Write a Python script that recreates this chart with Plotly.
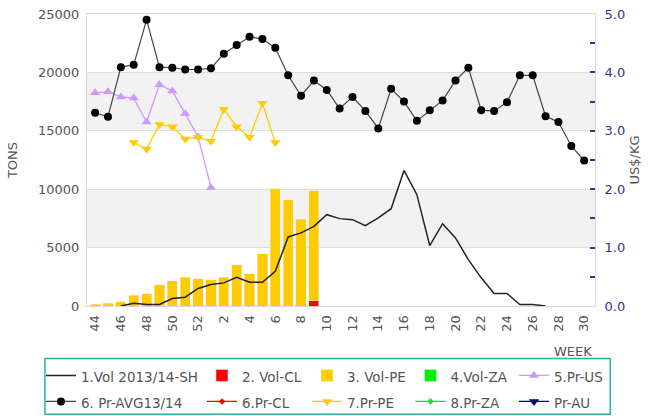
import plotly.graph_objects as go

# ---- data ----
weeks = [str(w) for w in list(range(44, 53)) + list(range(1, 31))]
tick_weeks = weeks[::2]

vol_sh = [None, None, 0, 240, 130, 130, 640, 750, 1500, 1840,
          1980, 2460, 2030, 2030, 2970, 5910, 6260, 6820, 7820, 7480,
          7390, 6880, 7540, 8330, 11610, 9530, 5170, 7050, 5830, 3970,
          2410, 1070, 1070, 130, 130, 0, None, None, None]

vol_cl = [None] * 17 + [470] + [None] * 21

vol_pe = [130, 240, 360, 900, 1070, 1840, 2150, 2460, 2350, 2260,
          2460, 3520, 2780, 4460, 10040, 9100, 7420, 9380] + [None] * 21

vol_za = [None] * 39

pr_avg = [3.31, 3.24, 4.09, 4.13, 4.90, 4.09, 4.08, 4.05, 4.05, 4.07,
          4.32, 4.47, 4.61, 4.57, 4.42, 3.95, 3.60, 3.86, 3.70, 3.38,
          3.58, 3.34, 3.04, 3.72, 3.50, 3.17, 3.35, 3.52, 3.86, 4.08,
          3.35, 3.34, 3.49, 3.95, 3.95, 3.25, 3.15, 2.74, 2.49]

pr_us = [3.65, 3.67, 3.58, 3.56, 3.15, 3.79, 3.68, 3.29, 2.90, 2.03] + [None] * 29

pr_pe = [None, None, None, 2.80, 2.69, 3.11, 3.07, 2.86, 2.89, 2.82,
         3.37, 3.07, 2.89, 3.47, 2.80] + [None] * 24

pr_cl = [None] * 39
pr_za = [None] * 39
pr_au = [None] * 39

names = {
    "vol_sh": "1.Vol 2013/14-SH", "vol_cl": "2. Vol-CL", "vol_pe": "3. Vol-PE",
    "vol_za": "4.Vol-ZA", "pr_us": "5.Pr-US", "pr_avg": "6. Pr-AVG13/14",
    "pr_cl": "6.Pr-CL", "pr_pe": "7.Pr-PE", "pr_za": "8.Pr-ZA", "pr_au": "Pr-AU",
}


def lab(s):
    return '<span style="font-size:13.5px">' + s + '</span>'


fig = go.Figure()

fig.add_trace(go.Scatter(x=weeks, y=vol_sh, mode="lines", name=lab(names["vol_sh"]),
                         line=dict(color="#222222", width=1.5), legendgroup="a",
                         legendwidth=116, yaxis="y"))
fig.add_trace(go.Bar(x=weeks, y=vol_cl, name=lab(names["vol_cl"]), marker_color="#FF0000",
                     legendgroup="b", legendwidth=60, yaxis="y"))
fig.add_trace(go.Bar(x=weeks, y=vol_pe, name=lab(names["vol_pe"]), marker_color="#FFCC00",
                     legendgroup="c", legendwidth=58.5, yaxis="y"))
fig.add_trace(go.Bar(x=weeks, y=vol_za, name=lab(names["vol_za"]), marker_color="#00EE00",
                     legendgroup="d", legendwidth=58.5, yaxis="y"))
fig.add_trace(go.Scatter(x=weeks, y=pr_us, mode="lines+markers", name=lab(names["pr_us"]),
                         line=dict(color="#CC99FF", width=1.3),
                         marker=dict(symbol="triangle-up", size=9, color="#CC99FF"),
                         legendgroup="e", legendwidth=46, yaxis="y2"))
fig.add_trace(go.Scatter(x=weeks, y=pr_avg, mode="lines+markers", name=lab(names["pr_avg"]),
                         line=dict(color="#444444", width=1.2),
                         marker=dict(symbol="circle", size=8, color="#000000"),
                         legendgroup="a", legendwidth=116, yaxis="y2"))
fig.add_trace(go.Scatter(x=weeks, y=pr_cl, mode="lines+markers", name=lab(names["pr_cl"]),
                         line=dict(color="#FF0000", width=1.2),
                         marker=dict(symbol="diamond", size=5, color="#FF0000"),
                         legendgroup="b", legendwidth=60, yaxis="y2"))
fig.add_trace(go.Scatter(x=weeks, y=pr_pe, mode="lines+markers", name=lab(names["pr_pe"]),
                         line=dict(color="#FFCC00", width=1.3),
                         marker=dict(symbol="triangle-down", size=9, color="#FFCC00"),
                         legendgroup="c", legendwidth=58.5, yaxis="y2"))
fig.add_trace(go.Scatter(x=weeks, y=pr_za, mode="lines+markers", name=lab(names["pr_za"]),
                         line=dict(color="#00EE00", width=1.2),
                         marker=dict(symbol="diamond", size=5, color="#00EE00"),
                         legendgroup="d", legendwidth=58.5, yaxis="y2"))
fig.add_trace(go.Scatter(x=weeks, y=pr_au, mode="lines+markers", name=lab(names["pr_au"]),
                         line=dict(color="#000080", width=1.2),
                         marker=dict(symbol="triangle-down", size=9, color="#000080"),
                         legendgroup="e", legendwidth=46, yaxis="y2"))

# alternating background bands
for y0, y1 in [(5000, 10000), (15000, 20000)]:
    fig.add_shape(type="rect", xref="paper", x0=0, x1=1, yref="y", y0=y0, y1=y1,
                  fillcolor="#F2F2F2", line=dict(width=0), layer="below")

PL, PT, PW, PH = 87, 14, 507.7, 292.5


def px(xw):
    return (xw - PL) / PW


def py(yw):
    return (PT + PH - yw) / PH


# legend frame
fig.add_shape(type="rect", xref="paper", yref="paper",
              x0=px(45), x1=px(610), y0=py(415), y1=py(359),
              line=dict(color="#2BB39B", width=1.5), fillcolor="rgba(0,0,0,0)", layer="above")

fig.add_annotation(text="WEEK", xref="paper", yref="paper", x=px(573), y=py(352),
                   xanchor="center", yanchor="middle",
                   showarrow=False, font=dict(size=13, color="#555555"))

fig.update_layout(
    width=650, height=416,
    margin=dict(l=PL, r=650 - PL - PW, t=PT, b=416 - PT - PH, autoexpand=False),
    paper_bgcolor="white", plot_bgcolor="white",
    font=dict(family="DejaVu Sans", size=13, color="#555555"),
    barmode="stack", bargap=0.21,
    showlegend=True,
    legend=dict(orientation="h", traceorder="grouped",
                x=px(41), xanchor="left",
                y=py(358), yanchor="top",
                borderwidth=0, bgcolor="rgba(0,0,0,0)",
                font=dict(size=17.7, color="#555555", family="DejaVu Sans")),
    xaxis=dict(type="category", range=[-0.63, 38.84], tickvals=tick_weeks,
               tickangle=-90, showgrid=False, showline=True, linecolor="#D9D9D9",
               mirror=True, ticks="", tickfont=dict(size=13, color="#555555"),
               ticklabelstandoff=3),
    yaxis=dict(range=[0, 25000], dtick=5000, tickformat="d", gridcolor="#DDDDDD",
               showline=True, linecolor="#D9D9D9", mirror=True, zeroline=False,
               tickfont=dict(size=13, color="#555555"), ticklabelstandoff=4,
               title=dict(text="TONS", font=dict(size=13, color="#555555"), standoff=17)),
    yaxis2=dict(overlaying="y", side="right", range=[0, 5], dtick=1, tickformat=".1f",
                showgrid=False, zeroline=False, showline=True, linecolor="#D9D9D9",
                ticks="inside", ticklen=5, tickcolor="#333399", tickwidth=1.5,
                minor=dict(dtick=0.5, ticks="inside", ticklen=5, tickcolor="#333399", tickwidth=1.5),
                tickfont=dict(size=13, color="#333399"), ticklabelstandoff=6,
                title=dict(text="US$/KG", font=dict(size=13, color="#555555"), standoff=5)),
)

# remove the browser's default 8px body margin so the figure fills the window exactly
fig.write_html("out.html", config={"displayModeBar": False},
               post_script="document.body.style.margin='0';")
